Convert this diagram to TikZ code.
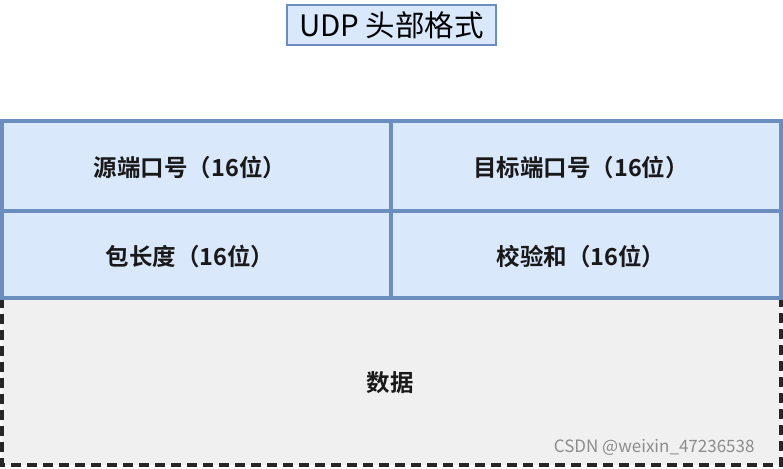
\documentclass[tikz,border=0pt]{standalone}
\usepackage{fontspec}
\newfontfamily\cjk{Noto Sans CJK SC}
\newfontfamily\cjkb{Noto Sans CJK SC Bold}
\definecolor{bluefill}{HTML}{DAE8FC}
\definecolor{blueline}{HTML}{6C8EBF}
\definecolor{grayfill}{HTML}{F0F0F0}
\begin{document}
\begin{tikzpicture}[x=1pt,y=-1pt,
  cellbox/.style={draw=blueline,fill=bluefill,line width=3.4pt},
  celltext/.style={font=\cjkb\fontsize{23.5}{27}\selectfont,text=black!90},
  titlebox/.style={draw=blueline,fill=bluefill,line width=1.3pt,font=\cjk\fontsize{29.5}{34}\selectfont,inner sep=0pt,minimum width=209pt,minimum height=40pt},
  databox/.style={draw=black!85,fill=grayfill,line width=3.4pt,dash pattern=on 10pt off 6pt}]
\useasboundingbox (0,0) rectangle (783,468);
\node[titlebox] (title) at (391.5,25) {UDP 头部格式};
\draw[databox] (2,298) rectangle (781,465);
\draw[cellbox] (2,121) rectangle (391,211);
\draw[cellbox] (391,121) rectangle (781,211);
\draw[cellbox] (2,211) rectangle (391,298);
\draw[cellbox] (391,211) rectangle (781,298);
\node[celltext] (src) at (190,168) {源端口号（16位）};
\node[celltext] (dst) at (581,168) {目标端口号（16位）};
\node[celltext] (len) at (190,257) {包长度（16位）};
\node[celltext] (chk) at (581,257) {校验和（16位）};
\node[celltext] (data) at (390,383) {数据};
\node[font=\cjk\fontsize{17}{20}\selectfont,text=black!45,anchor=east] (wm) at (758,447) {CSDN @weixin\_47236538};
\end{tikzpicture}
\end{document}
